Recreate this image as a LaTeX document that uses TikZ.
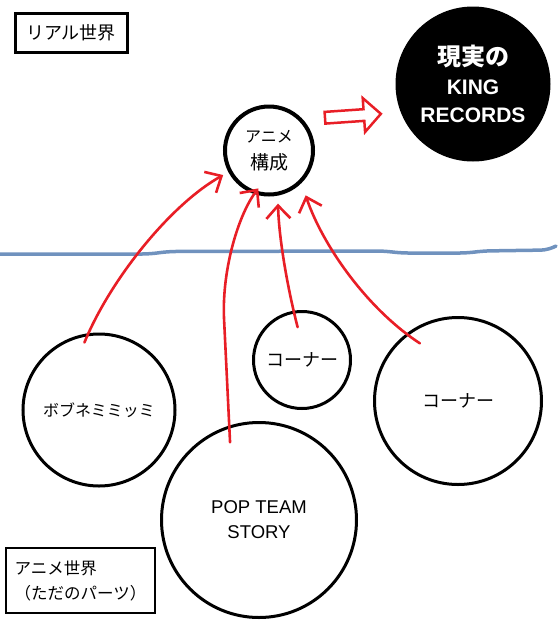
\documentclass[tikz,border=0pt]{standalone}
\usepackage{fontspec}
\usepackage{tikz}
\usetikzlibrary{arrows.meta, shapes.arrows}
\newfontfamily\jpfont{Noto Sans CJK JP}
\newfontfamily\latfont{Liberation Sans}
\definecolor{paintred}{RGB}{232,30,38}
\definecolor{skyline}{RGB}{112,146,190}
\tikzset{
  worldbox/.style={rectangle, draw=black, line width=3pt, inner sep=0pt,
    font=\jpfont\fontsize{18}{22}\selectfont},
  part/.style={circle, draw=black, line width=3pt, inner sep=0pt, align=center,
    font=\jpfont\fontsize{18}{22}\selectfont},
  core/.style={circle, draw=black, line width=4pt, inner sep=0pt, align=center,
    font=\jpfont\fontsize{16}{27}\selectfont},
  realdisc/.style={circle, fill=black, inner sep=0pt, align=center, text=white,
    font=\latfont\bfseries\fontsize{21}{28.5}\selectfont},
  redarr/.style={-{Straight Barb[length=13pt, width=24pt]}, line width=2.6pt,
    paintred, line cap=round, line join=round},
  fatarr/.style={single arrow, draw=paintred, line width=2.5pt, fill=white, inner xsep=0pt,
    inner ysep=4pt, minimum height=56pt, minimum width=34pt, single arrow head extend=10pt},
  horizon/.style={skyline, line width=3.5pt, line cap=round, rounded corners=8pt},
}
\begin{document}
\begin{tikzpicture}[x=1pt, y=-1pt]
  \useasboundingbox (0,0) rectangle (559,641);
  \node[worldbox, minimum width=112pt, minimum height=39pt] (realw) at (71,32.5) {リアル世界};
  \node[core, minimum size=88pt] (kousei) at (269,150.5) {アニメ\\\fontsize{19}{27}\selectfont 構成};
  \node[realdisc, minimum size=155pt] (king) at (473,84) {{\jpfont\fontsize{24}{28.5}\selectfont 現実の}\\KING\\RECORDS};
  \node[fatarr, rotate=4] (toking) at (350,116) {};
  \node[part, minimum size=152pt, font=\jpfont\fontsize{16}{20}\selectfont] (bobu) at (99,410) {ボブネミミッミ};
  \node[part, minimum size=97pt] (cornA) at (302,360) {コーナー};
  \node[part, minimum size=167pt] (cornB) at (458,401) {コーナー};
  \node[part, minimum size=195pt, font=\latfont\fontsize{18.5}{25}\selectfont] (pop) at (259,520) {POP TEAM\\STORY};
  \node[worldbox, minimum width=149pt, minimum height=65pt, line width=2.5pt, align=left,
    font=\jpfont\fontsize{16.5}{25}\selectfont] (animew) at (80.5,580.5) {アニメ世界\\（ただのパーツ）};

  \draw[horizon] (0,254) -- (150,254) -- (168,251.5) -- (385,251) -- (400,253) -- (468,253) -- (482,251) -- (549,250) -- (556,246);

  \draw[redarr, shorten <=-10pt, shorten >=6pt] (bobu.98) .. controls (110,280) and (170,205) .. (kousei.208);
  \draw[redarr, shorten >=-7pt] ([yshift=-17pt]pop.107) -- (224,318) .. controls (222,270) and (238,215) .. (kousei.251);
  \draw[redarr, shorten >=8pt] ([yshift=-17pt]cornA.95) .. controls (288,290) and (279,240) .. (kousei.281);
  \draw[redarr, shorten <=-17pt, shorten >=13pt] (cornB.128) .. controls (366,308) and (322,244) .. (kousei.315);
\end{tikzpicture}
\end{document}
